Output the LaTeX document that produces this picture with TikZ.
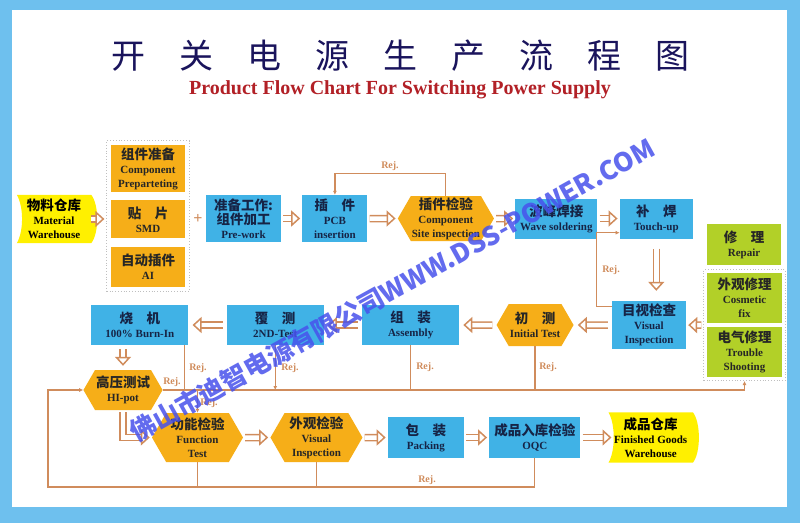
\documentclass[tikz,border=0pt]{standalone}
\usepackage{fontspec}
\setmainfont{Liberation Serif}
\newfontfamily\cjk{Noto Sans CJK SC}
\usetikzlibrary{positioning,fit,shapes.symbols,arrows.meta,backgrounds}

\definecolor{framecol}{RGB}{110,192,238}
\definecolor{procol}{RGB}{64,178,230}
\definecolor{chkcol}{RGB}{246,174,24}
\definecolor{fixcol}{RGB}{178,208,40}
\definecolor{storecol}{RGB}{255,240,0}
\definecolor{linecol}{RGB}{208,140,92}
\definecolor{titlecol}{RGB}{26,20,92}
\definecolor{subcol}{RGB}{178,32,38}
\definecolor{txtcol}{RGB}{22,36,70}
\definecolor{wmcol}{RGB}{72,82,236}

\newcommand{\zh}[1]{{\cjk\bfseries\fontsize{13.5}{14}\selectfont #1}}

\begin{document}
\begin{tikzpicture}[x=1pt, y=-1pt,
  box/.style = {rectangle, align=center, inner sep=1pt, text=txtcol,
    font=\bfseries\fontsize{11}{14}\selectfont},
  proc/.style = {box, fill=procol},
  part/.style = {box, fill=chkcol, text=black!85},
  chk/.style = {box, shape=signal, signal to=east and west, signal pointer angle=120,
    fill=chkcol, text=black!85},
  fix/.style = {box, fill=fixcol, text=black!85},
  store/.style = {box, text=black},
  grp/.style = {draw=black!25, dotted, line width=0.8pt, inner sep=4pt},
  flow/.style = {draw=linecol, line width=1.5pt, double=white, double distance=4.5pt,
    -{Triangle[length=9pt,width=16pt,fill=white]}, shorten <=2pt, shorten >=2pt},
  rej/.style = {draw=linecol, line width=1.2pt, -{Latex[length=4pt,width=4pt]}},
  rejline/.style = {draw=linecol, line width=1.2pt},
  lab/.style = {text=linecol, font=\bfseries\fontsize{10}{10}\selectfont, inner sep=0pt}]

  \useasboundingbox (0,0) rectangle (800,523);
  \begin{scope}[on background layer]
    \fill[framecol] (0,0) rectangle (800,523);
    \fill[white] (12,10) rectangle (787,507);
  \end{scope}

  % title
  \node[text=titlecol, font=\cjk\fontsize{34}{34}\selectfont] (title) at (400,56)
    {开\hskip1em 关\hskip1em 电\hskip1em 源\hskip1em 生\hskip1em 产\hskip1em 流\hskip1em 程\hskip1em 图};
  \node[text=subcol, font=\bfseries\fontsize{20}{20}\selectfont] (sub) at (400,90)
    {Product Flow Chart For Switching Power Supply};

  % first row
  \node[store, minimum width=74pt, minimum height=48pt] (mat) at (54,219) {\zh{物料仓库}\\Material\\Warehouse};
  \node[part, minimum width=74pt, minimum height=47pt] (comp) at (148,168.5) {\zh{组件准备}\\Component\\Preparteting};
  \node[part, minimum width=74pt, minimum height=38pt, below=8pt of comp] (smd) {\zh{贴　片}\\SMD};
  \node[part, minimum width=74pt, minimum height=40pt, below=8pt of smd] (ai) {\zh{自动插件}\\AI};
  \node[grp, fit=(comp)(ai)] (prep) {};
  \node[text=linecol, font=\bfseries\fontsize{16}{16}\selectfont] (plus) at (198,219) {+};
  \node[proc, minimum width=75pt, minimum height=47pt] (pre) at (243.5,218.5) {\zh{准备工作:}\\\zh{组件加工}\\Pre-work};
  \node[proc, minimum width=65pt, minimum height=47pt, right=21pt of pre] (ins) {\zh{插　件}\\PCB\\insertion};
  \node[chk, minimum width=90pt, minimum height=45pt, right=30pt of ins] (site) {\zh{插件检验}\\Component\\Site inspection};
  \node[proc, minimum width=82pt, minimum height=40pt, right=21pt of site] (wave) {\zh{波峰焊接}\\Wave soldering};
  \node[proc, minimum width=73pt, minimum height=40pt, right=22pt of wave] (touch) {\zh{补　焊}\\Touch-up};

  % repair
  \node[fix, minimum width=74pt, minimum height=41pt] (repair) at (744,244.5) {\zh{修　理}\\Repair};
  \node[fix, minimum width=75pt, minimum height=50pt] (cosm) at (744.5,298) {\zh{外观修理}\\Cosmetic\\fix};
  \node[fix, minimum width=75pt, minimum height=50pt, below=4pt of cosm] (trbl) {\zh{电气修理}\\Trouble\\Shooting};
  \node[grp, fit=(cosm)(trbl), inner sep=3pt] (fixgrp) {};

  % second row
  \node[proc, minimum width=74pt, minimum height=48pt] (vis) at (649,325) {\zh{目视检查}\\Visual\\Inspection};
  \node[chk, minimum width=77pt, minimum height=42pt, left=38pt of vis] (init) {\zh{初　测}\\Initial Test};
  \node[proc, minimum width=97pt, minimum height=40pt, left=37pt of init] (asm) {\zh{组　装}\\Assembly};
  \node[proc, minimum width=97pt, minimum height=40pt, left=38pt of asm] (retest) {\zh{覆　测}\\2ND-Test};
  \node[proc, minimum width=97pt, minimum height=40pt, left=38pt of retest] (burn) {\zh{烧　机}\\100\% Burn-In};

  % third row
  \node[chk, minimum width=70pt, minimum height=40pt] (hipot) at (123,390) {\zh{高压测试}\\HI-pot};
  \node[chk, minimum width=91pt, minimum height=49pt] (func) at (197.5,437.5) {\zh{功能检验}\\Function\\Test};
  \node[chk, minimum width=92pt, minimum height=49pt, right=27pt of func] (look) {\zh{外观检验}\\Visual\\Inspection};
  \node[proc, minimum width=76pt, minimum height=41pt, right=25pt of look] (pack) {\zh{包　装}\\Packing};
  \node[proc, minimum width=91pt, minimum height=41pt, right=25pt of pack] (oqc) {\zh{成品入库检验}\\OQC};
  \node[store, minimum width=84pt, minimum height=50pt, right=28pt of oqc] (fin) {\zh{成品仓库}\\Finished Goods\\Warehouse};

  \begin{scope}[on background layer]
    \foreach \s in {mat,fin}
      \fill[storecol] (\s.north west)
          .. controls ([xshift=7pt,yshift=-12pt]\s.north west) and ([xshift=7pt,yshift=12pt]\s.south west) .. (\s.south west)
        -- (\s.south east)
          .. controls ([xshift=8pt,yshift=10pt]\s.south east) and ([xshift=8pt,yshift=-10pt]\s.north east) .. (\s.north east)
        -- cycle;
  \end{scope}

  % main flow
  \draw[flow, shorten <=0pt] (mat.east) -- (prep.west |- mat.east);
  \draw[flow] (pre) -- (ins);
  \draw[flow] (ins) -- (site);
  \draw[flow] (site) -- (wave);
  \draw[flow] (wave) -- (touch);
  \draw[flow, shorten <=10pt, shorten >=10pt] (touch.south) -- (touch.south |- vis.north);
  \draw[flow] (fixgrp.west) -- (vis.east);
  \draw[flow, shorten <=4pt, shorten >=4pt] (vis) -- (init);
  \draw[flow, shorten <=4pt, shorten >=4pt] (init) -- (asm);
  \draw[flow, shorten <=4pt, shorten >=4pt] (asm) -- (retest);
  \draw[flow, shorten <=4pt, shorten >=4pt] (retest) -- (burn);
  \draw[flow, shorten <=4pt, shorten >=4pt] (hipot.north |- burn.south) -- (hipot.north);
  \draw[flow] (hipot.south) |- (func.west);
  \draw[flow] (func) -- (look);
  \draw[flow] (look) -- (pack);
  \draw[flow] (pack) -- (oqc);
  \draw[flow, shorten >=-3pt] (oqc) -- (fin);

  % rejects
  \draw[rej] (site.north) -- ++(0,-22) -| (ins.north);
  \node[lab] (r1) at (390,166) {Rej.};
  \draw[rej] ([yshift=-6pt]vis.north west) -- ++(-15,0) |- ([yshift=6pt]touch.south west);
  \node[lab] (r2) at (611,270) {Rej.};
  \draw[rej] (hipot.east) -| (fixgrp.south);
  \node[lab] (r3) at (172,382) {Rej.};
  \coordinate (bdrop) at ([xshift=-4pt]burn.south east);
  \draw[rejline] (bdrop) -- (bdrop |- hipot.east);
  \node[lab] (r4) at (198,368) {Rej.};
  \draw[rej] (retest.south) -- (retest.south |- hipot.east);
  \node[lab] (r5) at (290,368) {Rej.};
  \draw[rejline] (asm.south) -- (asm.south |- hipot.east);
  \node[lab] (r6) at (425,367) {Rej.};
  \draw[rejline] (init.south) -- (init.south |- hipot.east);
  \node[lab] (r7) at (548,367) {Rej.};
  \draw[rej] (func.north |- hipot.east) -- (func.north);
  \node[lab] (r8) at (209,403) {Rej.};
  \coordinate (corner) at (48,487);
  \draw[rej] (oqc.south) |- (corner) |- (hipot.west);
  \draw[rejline] (func.south) -- (func.south |- corner);
  \draw[rejline] (look.south) -- (look.south |- corner);
  \node[lab] (r9) at (427,480) {Rej.};

  % watermark
  \node[rotate=29, text=wmcol, opacity=0.85, font=\cjk\bfseries\fontsize{26}{26}\selectfont] (wm) at (392,290)
    {佛山市迪智电源有限公司WWW.DSS-POWER.COM};
\end{tikzpicture}
\end{document}
